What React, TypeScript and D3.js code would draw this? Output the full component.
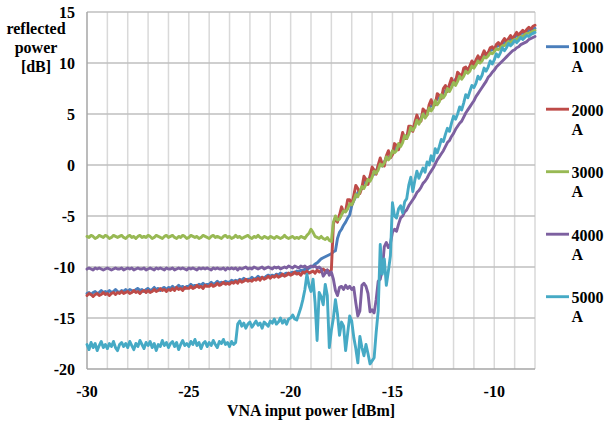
import React from 'react';
import * as d3 from 'd3';

const X_START = -30;
const X_STEP = 0.1;
const xDomain = [-30, -8];
const yDomain = [-20, 15];
const xTickValues = [-30, -25, -20, -15, -10];
const yTickValues = [-20, -15, -10, -5, 0, 5, 10, 15];
const legendLabels = ['1000', '2000', '3000', '4000', '5000'];
const legendUnit = 'A';
const seriesColors = ['#4A7EBB', '#BE4B48', '#98B954', '#7D60A0', '#46AAC5'];
const xTitle = 'VNA input power [dBm]';
const yTitleLines = ['reflected', 'power', '[dB]'];

// reflected power [dB], sampled every 0.1 dBm from -30 to -8
const series1000 = [
  -12.6,-12.5,-12.7,-12.5,-12.4,-12.6,-12.5,-12.3,-12.5,-12.4,
  -12.5,-12.3,-12.5,-12.4,-12.2,-12.4,-12.5,-12.3,-12.4,-12.2,
  -12.4,-12.2,-12.3,-12.4,-12.2,-12.1,-12.3,-12.2,-12.4,-12.2,
  -12.1,-12.3,-12.2,-12.0,-12.2,-12.1,-12.3,-12.1,-12.0,-12.2,
  -12.0,-12.1,-11.9,-12.1,-12.0,-11.8,-12.0,-11.9,-12.1,-11.9,
  -11.9,-11.7,-11.9,-11.8,-11.9,-11.7,-11.8,-11.6,-11.8,-11.7,
  -11.7,-11.5,-11.7,-11.6,-11.4,-11.6,-11.5,-11.6,-11.4,-11.5,
  -11.5,-11.3,-11.4,-11.3,-11.4,-11.2,-11.3,-11.1,-11.3,-11.2,
  -11.2,-11.0,-11.2,-11.1,-10.9,-11.1,-11.0,-11.1,-10.9,-10.8,
  -10.9,-10.8,-10.9,-10.7,-10.8,-10.6,-10.8,-10.7,-10.6,-10.7,
  -10.6,-10.5,-10.6,-10.4,-10.5,-10.3,-10.4,-10.2,-10.3,-10.1,
  -10.0,-9.9,-9.7,-9.6,-9.4,-9.2,-9.1,-9.0,-8.9,-8.8,
  -8.7,-8.5,-8.4,-7.2,-6.6,-6.3,-5.9,-5.6,-5.2,-4.9,
  -4.0,-3.5,-3.1,-2.7,-2.5,-2.3,-1.7,-1.7,-1.6,-1.2,
  -0.8,-0.9,-0.6,-0.1,0.0,-0.1,0.3,0.7,0.6,0.9,
  1.3,1.3,1.7,1.9,2.0,2.6,2.7,2.8,3.3,3.4,
  3.6,4.0,4.3,4.3,4.6,5.0,5.0,5.2,5.6,5.8,
  5.9,6.2,6.5,6.6,6.8,7.1,7.3,7.4,7.8,8.0,
  8.1,8.4,8.6,8.7,8.8,9.1,9.3,9.4,9.6,9.8,
  9.9,10.1,10.3,10.4,10.6,10.8,10.9,11.0,11.2,11.3,
  11.4,11.6,11.7,11.8,11.9,12.0,12.2,12.3,12.3,12.5,
  12.5,12.7,12.7,12.9,12.9,13.0,13.1,13.2,13.3,13.3,
  13.4,
];

const series2000 = [
  -12.8,-12.6,-12.7,-12.9,-12.7,-12.6,-12.8,-12.7,-12.5,-12.7,
  -12.6,-12.8,-12.6,-12.5,-12.7,-12.5,-12.6,-12.4,-12.6,-12.5,
  -12.4,-12.6,-12.5,-12.3,-12.5,-12.4,-12.6,-12.4,-12.3,-12.5,
  -12.3,-12.5,-12.4,-12.2,-12.4,-12.3,-12.1,-12.3,-12.2,-12.4,
  -12.2,-12.3,-12.1,-12.3,-12.0,-12.2,-12.1,-12.3,-12.0,-12.1,
  -12.1,-11.9,-12.1,-12.0,-11.8,-12.0,-11.9,-12.1,-11.8,-11.9,
  -11.9,-11.7,-11.9,-11.8,-11.6,-11.8,-11.7,-11.5,-11.7,-11.6,
  -11.7,-11.5,-11.6,-11.4,-11.6,-11.3,-11.5,-11.4,-11.2,-11.4,
  -11.3,-11.4,-11.2,-11.3,-11.1,-11.3,-11.0,-11.2,-11.1,-10.9,
  -11.1,-10.9,-11.0,-10.8,-11.0,-10.9,-10.7,-10.9,-10.8,-10.6,
  -10.8,-10.7,-10.5,-10.7,-10.6,-10.8,-10.5,-10.6,-10.4,-10.6,
  -10.5,-10.4,-10.6,-10.3,-10.5,-10.4,-10.2,-10.4,-10.3,-10.5,
  -10.3,
  -5.8,-5.2,-5.6,-4.9,-4.1,-4.6,-4.5,-3.4,-3.4,-3.9,
  -3.0,-2.0,-2.3,-2.8,-2.2,-1.1,-1.4,-1.9,-1.1,-0.2,
  -0.5,-0.9,0.0,0.7,0.1,-0.1,0.9,1.4,0.7,1.0,
  2.1,1.9,1.5,2.3,3.2,2.6,2.6,3.8,3.8,3.3,
  4.2,4.9,4.3,4.3,5.5,5.3,4.9,5.9,6.4,5.8,
  5.9,7.0,6.8,6.5,7.5,7.8,7.2,7.9,8.5,8.0,
  8.2,9.1,8.9,8.6,9.5,9.6,9.2,9.7,10.2,9.8,
  10.3,10.7,10.3,10.7,11.2,10.8,11.0,11.5,11.6,11.3,
  11.8,12.0,11.7,12.1,12.4,12.1,12.4,12.7,12.4,12.7,
  13.0,12.7,13.0,13.2,13.0,13.3,13.5,13.3,13.6,13.7,
];

const series3000 = [
  -7.0,-7.1,-6.9,-7.0,-7.2,-7.1,-6.9,-7.0,-7.1,-6.9,
  -7.0,-7.2,-7.1,-6.9,-7.0,-7.1,-7.0,-6.9,-7.1,-7.2,
  -7.0,-6.9,-7.1,-7.0,-7.2,-7.0,-6.9,-7.1,-7.0,-7.1,
  -6.9,-7.0,-7.2,-7.1,-6.9,-7.0,-7.1,-7.2,-7.0,-6.9,
  -7.1,-7.0,-6.9,-7.1,-7.2,-7.0,-7.1,-6.9,-7.0,-7.2,
  -7.1,-6.9,-7.0,-7.1,-7.0,-7.2,-7.1,-6.9,-7.0,-7.1,
  -7.2,-7.0,-6.9,-7.1,-7.0,-7.1,-7.2,-7.0,-6.9,-7.1,
  -7.0,-7.2,-7.1,-6.9,-7.1,-7.0,-7.2,-7.1,-7.0,-6.9,
  -7.1,-7.2,-7.0,-7.1,-6.9,-7.1,-7.2,-7.0,-7.1,-7.2,
  -7.0,-7.1,-7.2,-7.0,-7.1,-7.2,-7.1,-6.9,-7.1,-7.2,
  -7.1,-7.0,-7.2,-7.1,-7.2,-7.0,-7.1,-7.2,-6.9,-6.7,
  -6.3,-6.6,-7.0,-7.1,-7.2,-7.0,-7.2,-7.3,-7.1,-7.4,
  -7.5,
  -5.6,-5.0,-5.4,-5.3,-4.9,-4.5,-4.6,-4.3,-3.8,-3.9,
  -3.5,-2.9,-3.1,-2.6,-2.1,-2.3,-1.9,-1.4,-1.6,-1.2,
  -0.6,-0.8,-0.5,0.1,-0.1,0.2,0.8,0.5,0.8,1.4,
  1.2,1.4,2.1,1.8,2.2,2.9,2.6,3.0,3.7,3.4,
  3.7,4.4,4.0,4.4,5.0,4.6,4.9,5.6,5.3,5.6,
  6.3,5.9,6.2,6.9,6.6,6.9,7.5,7.2,7.6,8.1,
  7.8,8.2,8.7,8.4,8.7,9.2,9.0,9.2,9.7,9.5,
  9.8,10.2,10.0,10.2,10.6,10.5,10.7,11.0,10.9,11.1,
  11.4,11.3,11.5,11.7,11.7,11.9,12.1,12.0,12.2,12.3,
  12.3,12.5,12.6,12.6,12.8,12.9,12.9,13.0,13.1,13.2,
];

const series4000 = [
  -10.2,-10.1,-10.2,-10.3,-10.1,-10.2,-10.1,-10.2,-10.3,-10.2,
  -10.1,-10.2,-10.3,-10.2,-10.1,-10.2,-10.2,-10.1,-10.3,-10.2,
  -10.1,-10.2,-10.1,-10.3,-10.2,-10.1,-10.2,-10.2,-10.1,-10.3,
  -10.2,-10.1,-10.2,-10.3,-10.1,-10.2,-10.1,-10.2,-10.3,-10.1,
  -10.2,-10.2,-10.1,-10.3,-10.2,-10.1,-10.2,-10.1,-10.2,-10.3,
  -10.1,-10.2,-10.1,-10.2,-10.3,-10.1,-10.2,-10.1,-10.2,-10.1,
  -10.2,-10.3,-10.1,-10.2,-10.1,-10.2,-10.2,-10.1,-10.3,-10.1,
  -10.2,-10.1,-10.2,-10.1,-10.3,-10.1,-10.2,-10.1,-10.0,-10.2,
  -10.1,-10.2,-10.0,-10.1,-10.2,-10.1,-10.0,-10.2,-10.1,-10.0,
  -10.1,-10.2,-10.0,-10.1,-10.0,-10.2,-10.1,-10.0,-10.1,-9.9,
  -10.0,-10.1,-9.9,-10.0,-10.1,-9.9,-10.0,-9.9,-10.1,-10.0,
  -9.9,-10.0,-9.9,-10.1,-10.0,-10.2,-10.9,-10.6,-10.3,-10.8,
  -10.5,-11.2,-12.3,-12.8,-12.0,-11.9,-12.2,-11.8,-12.1,-11.9,
  -12.2,-12.0,-13.5,-14.8,-14.3,-11.8,-11.6,-11.9,-12.6,-14.4,
  -14.2,-14.5,-13.2,-11.4,-11.2,-10.3,-8.0,-7.6,-8.1,-7.7,
  -6.6,-6.3,-6.5,-5.8,-5.2,-5.0,-4.6,-4.4,-4.0,-3.7,
  -3.4,-3.1,-2.7,-2.5,-2.2,-1.8,-1.6,-1.3,-0.9,-0.6,
  -0.3,0.1,0.5,0.8,1.1,1.4,1.8,2.2,2.4,2.8,
  3.1,3.5,3.8,4.1,4.3,4.7,5.1,5.4,5.7,6.0,
  6.3,6.7,7.0,7.3,7.6,7.9,8.2,8.6,8.8,9.1,
  9.3,9.6,9.8,10.0,10.2,10.4,10.6,10.8,11.0,11.2,
  11.3,11.5,11.6,11.8,11.9,12.0,12.1,12.3,12.4,12.5,
  12.6,
];

const series5000 = [
  -17.6,-18.1,-17.4,-17.9,-17.5,-18.2,-17.7,-17.3,-17.9,-17.6,
  -18.0,-17.5,-17.8,-17.3,-17.9,-18.2,-17.6,-17.4,-17.8,-17.5,
  -17.9,-17.3,-17.7,-18.1,-17.5,-17.8,-17.2,-17.6,-18.0,-17.4,
  -17.7,-17.3,-17.9,-17.5,-18.2,-17.6,-17.8,-17.2,-17.7,-17.4,
  -17.9,-17.5,-17.3,-17.8,-17.4,-18.1,-17.6,-17.2,-17.7,-17.5,
  -17.8,-17.3,-17.6,-17.1,-17.7,-17.4,-18.0,-17.5,-17.3,-17.8,
  -17.4,-17.7,-17.2,-17.6,-17.9,-17.3,-17.5,-17.1,-17.6,-17.4,
  -17.8,-17.3,-17.6,-17.4,-15.6,-15.3,-15.8,-15.5,-16.0,-15.6,
  -15.4,-15.9,-15.6,-15.3,-15.7,-15.5,-16.0,-15.4,-15.6,-15.8,
  -15.3,-15.5,-15.1,-15.6,-15.4,-15.0,-15.5,-15.2,-15.6,-15.1,
  -15.0,-14.7,-15.1,-15.2,-14.6,-14.0,-13.2,-12.2,-10.7,-11.8,
  -12.4,-11.2,-13.5,-17.2,-12.5,-12.9,-13.7,-11.7,-12.8,-17.9,
  -16.2,-15.0,-13.2,-14.6,-16.7,-15.4,-15.8,-18.2,-16.5,-14.8,
  -15.3,-16.9,-18.0,-19.4,-16.8,-17.9,-18.7,-17.6,-18.5,-19.5,
  -19.2,-18.9,-16.4,-14.3,-7.8,-10.7,-9.2,-11.8,-10.4,-8.9,
  -3.7,-5.0,-5.2,-4.3,-4.0,-4.7,-3.6,-3.3,-2.0,-1.2,
  -2.6,-1.5,-0.6,-1.3,-0.8,-0.3,-0.7,0.3,0.0,0.9,
  0.4,1.6,1.2,1.8,2.5,2.3,3.0,3.6,3.3,4.1,
  4.8,4.5,5.0,5.7,5.4,6.1,6.9,6.6,7.2,7.8,
  7.6,8.0,8.7,8.4,8.8,9.5,9.2,9.6,10.2,9.9,
  10.3,10.9,10.6,11.0,11.5,11.2,11.5,11.9,11.7,11.9,
  12.2,12.0,12.2,12.5,12.3,12.5,12.7,12.6,12.8,12.9,
  13.0,
];

const allSeries = [series1000, series2000, series3000, series4000, series5000];

const FONT =
  '"Liberation Serif", Tinos, "Times New Roman", Times, "Nimbus Roman", "Nimbus Roman No9 L", FreeSerif, "Noto Serif", "DejaVu Serif", serif';

export default function App() {
  const W = 605;
  const H = 421;
  const left = 87, right = 535, top = 12, bottom = 369;
  const x = d3.scaleLinear().domain(xDomain).range([left, right]);
  const y = d3.scaleLinear().domain(yDomain).range([bottom, top]);

  const line = d3
    .line<number>()
    .x((_, i) => x(X_START + i * X_STEP))
    .y((d) => y(d))
    .curve(d3.curveLinear);

  const vGrid = d3.range(xDomain[0] + 1, xDomain[1] + 1, 1);
  const hGrid = yTickValues.filter((v) => v > yDomain[0]);

  const legendX0 = 546;
  const legendY0 = 46.7;
  const legendGap = 62.5;

  return (
    <svg
      width={W}
      height={H}
      style={{ position: 'absolute', left: 0, top: 0, background: '#fff' }}
    >
      <rect x={0} y={0} width={W} height={H} fill="#fff" />
      {vGrid.map((v) => (
        <line key={'v' + v} x1={x(v)} x2={x(v)} y1={top} y2={bottom} stroke="#d9d9d9" strokeWidth={1.5} />
      ))}
      {hGrid.map((v) => (
        <line key={'h' + v} x1={left} x2={right} y1={y(v)} y2={y(v)} stroke="#bfbfbf" strokeWidth={1.5} />
      ))}
      <line x1={left} x2={left} y1={top} y2={bottom} stroke="#a6a6a6" strokeWidth={1.5} />
      <line x1={left} x2={right} y1={bottom} y2={bottom} stroke="#a6a6a6" strokeWidth={1.5} />

      {allSeries.map((s, k) => (
        <path
          key={'s' + k}
          d={line(s) || ''}
          fill="none"
          stroke={seriesColors[k]}
          strokeWidth={2.9}
          strokeLinejoin="round"
          strokeLinecap="round"
        />
      ))}

      <g fontFamily={FONT} fontWeight="bold" fontSize="16px" fill="#000">
        {yTickValues.map((v) => (
          <text key={'yt' + v} x={75} y={y(v) + 5.5} textAnchor="end">
            {v}
          </text>
        ))}
        {xTickValues.map((v) => (
          <text key={'xt' + v} x={x(v)} y={396.5} textAnchor="middle">
            {v}
          </text>
        ))}
        <text x={(left + right) / 2} y={415.5} textAnchor="middle">
          {xTitle}
        </text>
        {yTitleLines.map((t, i) => (
          <text key={'ytl' + i} x={36} y={33.5 + i * 19.3} textAnchor="middle">
            {t}
          </text>
        ))}
        {legendLabels.map((lab, i) => {
          const ly = legendY0 + i * legendGap;
          return (
            <g key={'lg' + i}>
              <line x1={legendX0} x2={legendX0 + 23} y1={ly} y2={ly} stroke={seriesColors[i]} strokeWidth={2.9} />
              <text x={571.5} y={ly + 6.3}>
                {lab}
              </text>
              <text x={571.5} y={ly + 25.3}>
                {legendUnit}
              </text>
            </g>
          );
        })}
      </g>
    </svg>
  );
}
